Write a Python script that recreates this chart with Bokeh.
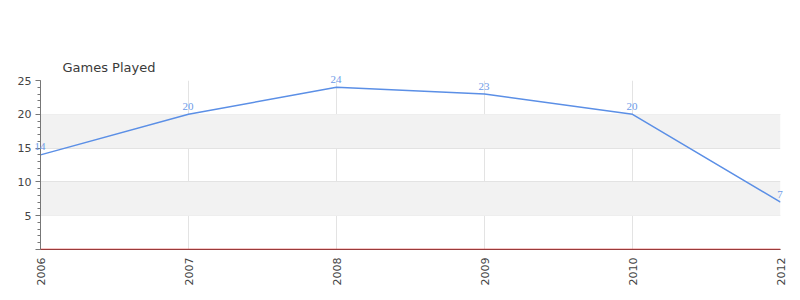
import math
from bokeh.plotting import figure
from bokeh.models import (ColumnDataSource, HTMLLabelSet, BoxAnnotation, Span,
                          FixedTicker, Range1d)
from bokeh.embed import file_html
from bokeh.resources import INLINE

years = ["2006", "2007", "2008", "2009", "2010", "2012"]
games = [14, 20, 24, 23, 20, 7]
y_ticks = [0, 5, 10, 15, 20, 25]

idx = list(range(len(years)))
src = ColumnDataSource(dict(x=idx, y=games, lab=[str(v) for v in games]))

p = figure(width=800, height=300, output_backend="svg", toolbar_location=None,
           x_range=Range1d(0, len(years) - 1), y_range=Range1d(0, 25),
           min_border_left=40, min_border_right=20, min_border_top=80,
           min_border_bottom=51, title="Games Played")
p.outline_line_color = None
p.background_fill_color = "white"
p.border_fill_color = "white"

p.title.text_font = "DejaVu Sans"
p.title.text_font_size = "13px"
p.title.text_font_style = "normal"
p.title.text_color = "#3a3a3a"
p.title.offset = 22
p.title.standoff = 12

for lo, hi in [(5, 10), (15, 20)]:
    p.add_layout(BoxAnnotation(bottom=lo, top=hi, fill_color="#f2f2f2",
                               fill_alpha=1, line_color=None, level="underlay"))

p.xgrid.ticker = FixedTicker(ticks=idx)
p.ygrid.ticker = FixedTicker(ticks=y_ticks)
p.xgrid.grid_line_color = "#e3e3e3"
p.ygrid.grid_line_color = "#e3e3e3"

p.xaxis.ticker = FixedTicker(ticks=idx)
p.xaxis.major_label_overrides = {i: y for i, y in enumerate(years)}
p.xaxis.major_label_orientation = math.pi / 2
p.xaxis.major_tick_out = 0
p.xaxis.major_tick_in = 0
p.xaxis.minor_tick_line_color = None
p.xaxis.axis_line_color = "#555555"
p.xaxis.major_label_standoff = 8

p.yaxis.ticker = FixedTicker(ticks=y_ticks, minor_ticks=list(range(0, 26)))
p.yaxis.major_label_overrides = {0: ""}
p.yaxis.major_tick_out = 5
p.yaxis.major_tick_in = 0
p.yaxis.minor_tick_out = 3
p.yaxis.minor_tick_in = 0
p.yaxis.axis_line_color = "#777777"
p.yaxis.major_tick_line_color = "#777777"
p.yaxis.minor_tick_line_color = "#777777"
p.yaxis.major_label_standoff = 4

for ax in (p.xaxis, p.yaxis):
    ax.major_label_text_font = "DejaVu Sans"
    ax.major_label_text_font_size = "11px"
    ax.major_label_text_color = "#444444"

p.add_layout(Span(location=0, dimension="width", line_color="#dd2222", line_width=1.5))

p.line("x", "y", source=src, line_color="#5b8fe6", line_width=1.5)
p.add_layout(HTMLLabelSet(x="x", y="y", text="lab", source=src, text_align="center",
                          text_baseline="bottom", y_offset=2,
                          text_font_size="11px", text_font="sans-serif",
                          text_color="#6e9be8"))

open("out.html", "w").write(file_html(p, INLINE))
